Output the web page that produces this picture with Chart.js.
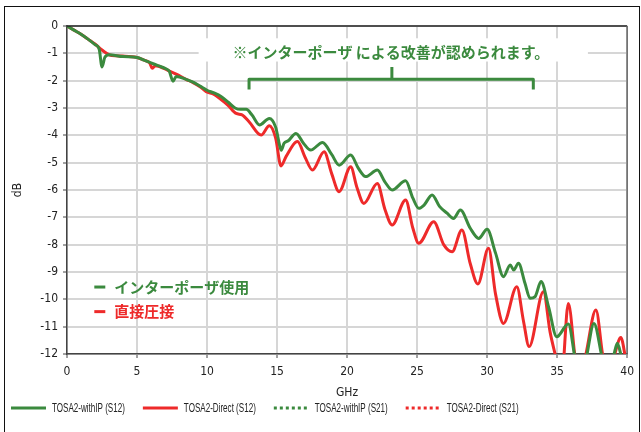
<!DOCTYPE html>
<html>
<head>
<meta charset="utf-8">
<script src="https://cdn.jsdelivr.net/npm/chart.js@4.4.1/dist/chart.umd.min.js"></script>
<style>
html,body{margin:0;padding:0;background:#fff;}
#wrap{width:641px;height:432px;position:relative;}
</style>
</head>
<body>
<div id="wrap"><canvas id="chart" width="641" height="432"></canvas></div>
<script>
// insertion loss, TOSA2 with interposer (S12), GHz / dB
const withIpFreq = [0, 0.5, 1, 1.5, 2, 2.3, 2.5, 2.7, 3, 4, 5, 5.5, 6, 6.5, 7, 7.3, 7.57, 7.8, 8.5, 9, 9.5, 10, 10.5, 11, 11.5, 12, 12.4, 12.8, 13.2, 13.75, 14.45, 14.9, 15.2, 15.3, 15.5, 15.8, 16.35, 16.9, 17.4, 18.25, 18.9, 19.43, 20.26, 20.8, 21.33, 22.16, 22.7, 23.22, 24.18, 24.7, 25.12, 25.5, 26.07, 26.6, 27.14, 27.6, 28.09, 28.8, 29.4, 30, 30.6, 31.17, 31.65, 31.9, 32.24, 32.7, 33.07, 33.43, 33.85, 34.4, 34.97, 35.8, 36.3, 36.7, 37.1, 37.63, 38.2, 38.6, 39.07, 39.3, 39.6, 40];
const withIpDb = [0, -0.15, -0.3, -0.48, -0.68, -0.85, -1.5, -1.15, -1.05, -1.12, -1.15, -1.25, -1.35, -1.45, -1.55, -1.65, -2.02, -1.85, -1.95, -2.05, -2.2, -2.35, -2.45, -2.58, -2.78, -3.0, -3.05, -3.05, -3.25, -3.62, -3.38, -3.7, -4.4, -4.55, -4.29, -4.2, -3.93, -4.3, -4.54, -4.26, -4.7, -5.09, -4.72, -5.2, -5.51, -5.27, -5.7, -6.0, -5.66, -6.3, -6.67, -6.55, -6.18, -6.6, -6.85, -7.04, -6.73, -7.4, -7.77, -7.44, -8.3, -9.17, -8.74, -8.93, -8.68, -9.4, -9.96, -9.9, -9.35, -10.3, -11.37, -10.9, -12.2, -13.0, -12.1, -10.88, -12.1, -13.0, -12.0, -11.61, -12.1, -12.5];

// TOSA2 direct contact (S12)
const directFreq = [0, 0.5, 1, 1.5, 2, 2.5, 2.83, 3.2, 4, 5, 5.5, 5.9, 6.1, 6.3, 6.6, 7.2, 7.8, 8.5, 9, 9.5, 9.94, 10.5, 10.9, 11.5, 12.08, 12.5, 13, 13.86, 14.45, 14.9, 15.28, 15.64, 16.46, 17, 17.53, 18.36, 18.9, 19.43, 20.26, 20.7, 21.2, 22.16, 22.7, 23.22, 24.18, 24.7, 25.12, 26.19, 26.9, 27.5, 28.2, 28.8, 29.34, 30.1, 30.6, 31.17, 32.12, 32.6, 33, 34.02, 34.5, 34.9, 35.3, 35.8, 36.3, 36.6, 37.06, 37.77, 38.24, 38.6, 39.12, 39.55, 39.9, 40];
const directDb = [0, -0.15, -0.3, -0.48, -0.66, -0.88, -1.0, -1.08, -1.1, -1.15, -1.25, -1.35, -1.55, -1.45, -1.48, -1.62, -1.76, -1.95, -2.07, -2.22, -2.4, -2.5, -2.65, -2.9, -3.2, -3.25, -3.5, -3.99, -3.65, -4.1, -5.12, -4.78, -4.23, -4.8, -5.27, -4.6, -5.4, -6.06, -5.15, -5.9, -6.49, -5.76, -6.7, -7.28, -6.37, -7.4, -7.95, -7.16, -8.0, -8.26, -7.46, -8.7, -9.44, -8.13, -9.8, -10.88, -9.54, -10.8, -11.73, -9.72, -11.2, -12.1, -13.0, -10.15, -12.2, -13.0, -12.0, -10.39, -12.0, -13.0, -12.0, -11.4, -12.2, -12.5];

const seriesLabels = ['TOSA2-withIP (S12)', 'TOSA2-Direct (S12)', 'TOSA2-withIP (S21)', 'TOSA2-Direct (S21)'];
const xTicks = [0, 5, 10, 15, 20, 25, 30, 35, 40];
const yTicks = [0, -1, -2, -3, -4, -5, -6, -7, -8, -9, -10, -11, -12];

// callout texts, anchored in data units (GHz, dB)
const noteText = '※インターポーザ による改善が認められます。';
const noteFrom = 13, noteTo = 33.3, noteMid = 23.2;
const innerLegend = [['インターポーザ使用', -9.55], ['直接圧接', -10.45]];

const GREEN = '#3b8a3e';
const RED = '#ee2a2a';
const narrow = "'DejaVu Sans Condensed', 'Liberation Sans', sans-serif";
const cjk = "'Noto Sans CJK JP', sans-serif";

const toPts = (xs, ys) => xs.map((x, i) => ({x: x, y: ys[i]}));

const notes = {
    id: 'notes',
    beforeDatasetsDraw(chart) {
        const {ctx, scales: {x, y}} = chart;
        ctx.save();
        ctx.fillStyle = '#fff';
        const l = x.getPixelForValue(9.4), r = x.getPixelForValue(37.2);
        const t = y.getPixelForValue(-0.45), b = y.getPixelForValue(-1.3);
        ctx.fillRect(l, t, r - l, b - t);
        ctx.restore();
    },
    afterDatasetsDraw(chart) {
        const {ctx, chartArea: a, scales: {x, y}} = chart;
        ctx.save();
        // plot frame top / right
        ctx.strokeStyle = '#222';
        ctx.lineWidth = 1.5;
        ctx.beginPath();
        ctx.moveTo(a.left, a.top);
        ctx.lineTo(a.right, a.top);
        ctx.stroke();
        ctx.strokeStyle = '#666';
        ctx.beginPath();
        ctx.moveTo(a.right, a.top);
        ctx.lineTo(a.right, a.bottom);
        ctx.stroke();

        // bracket
        const x1 = x.getPixelForValue(noteFrom), x2 = x.getPixelForValue(noteTo), xm = x.getPixelForValue(noteMid);
        const yb = y.getPixelForValue(-1.95);
        ctx.strokeStyle = GREEN;
        ctx.lineWidth = 3;
        ctx.lineJoin = 'round';
        ctx.beginPath();
        ctx.moveTo(x1, y.getPixelForValue(-2.32));
        ctx.lineTo(x1, yb);
        ctx.lineTo(x2, yb);
        ctx.lineTo(x2, y.getPixelForValue(-2.32));
        ctx.moveTo(xm, yb);
        ctx.lineTo(xm, y.getPixelForValue(-1.5));
        ctx.stroke();

        ctx.fillStyle = GREEN;
        ctx.font = 'bold 15px ' + cjk;
        ctx.textAlign = 'center';
        ctx.textBaseline = 'middle';
        ctx.fillText(noteText, x.getPixelForValue(noteMid) - 1, y.getPixelForValue(-0.95));

        // inner legend
        ctx.textAlign = 'left';
        innerLegend.forEach(([txt, v], i) => {
            const c = i === 0 ? GREEN : RED;
            const yy = y.getPixelForValue(v);
            const xx = x.getPixelForValue(1.95);
            ctx.strokeStyle = c;
            ctx.lineWidth = 3;
            ctx.beginPath();
            ctx.moveTo(xx, yy);
            ctx.lineTo(xx + 11, yy);
            ctx.stroke();
            ctx.fillStyle = c;
            ctx.fillText(txt, xx + 20, yy);
        });
        ctx.restore();
    },
    afterDraw(chart) {
        const ctx = chart.ctx;
        ctx.save();
        // series key along the bottom, narrow type like the original
        const yy = 408;
        let xx = 11;
        ctx.font = '13px ' + "'Liberation Sans', sans-serif";
        ctx.textBaseline = 'middle';
        chart.data.datasets.forEach(ds => {
            ctx.strokeStyle = ds.borderColor;
            ctx.lineWidth = 3;
            ctx.setLineDash(ds.borderDash || []);
            ctx.beginPath();
            ctx.moveTo(xx, yy);
            ctx.lineTo(xx + 35, yy);
            ctx.stroke();
            ctx.setLineDash([]);
            const sx = 0.62;
            const w = ctx.measureText(ds.label).width * sx;
            ctx.save();
            ctx.translate(xx + 41, yy);
            ctx.scale(sx, 1);
            ctx.fillStyle = '#222';
            ctx.fillText(ds.label, 0, 0);
            ctx.restore();
            xx += 41 + w + 18;
        });

        ctx.strokeStyle = '#111';
        ctx.lineWidth = 1;
        ctx.strokeRect(4.5, 6.5, 635, 440);
        ctx.restore();
    }
};

new Chart(document.getElementById('chart'), {
    type: 'line',
    data: {
        datasets: [{
            label: seriesLabels[0],
            data: toPts(withIpFreq, withIpDb),
            borderColor: GREEN,
            backgroundColor: GREEN,
            borderWidth: 3
        }, {
            label: seriesLabels[1],
            data: toPts(directFreq, directDb),
            borderColor: RED,
            backgroundColor: RED,
            borderWidth: 3
        }, {
            label: seriesLabels[2],
            data: [],
            borderColor: GREEN,
            borderDash: [3, 3],
            borderWidth: 3
        }, {
            label: seriesLabels[3],
            data: [],
            borderColor: RED,
            borderDash: [3, 3],
            borderWidth: 3
        }]
    },
    options: {
        responsive: false,
        animation: false,
        layout: {padding: {top: 26, right: 12, left: 0, bottom: 32}},
        elements: {
            point: {radius: 0, hoverRadius: 0},
            line: {cubicInterpolationMode: 'monotone'}
        },
        plugins: {
            tooltip: {enabled: false},
            legend: {display: false}
        },
        scales: {
            x: {
                type: 'linear',
                min: 0,
                max: 40,
                afterBuildTicks: s => { s.ticks = xTicks.map(v => ({value: v})); },
                afterFit: s => { s.height = 46; },
                grid: {color: '#d6d6d6', lineWidth: 2, tickLength: 4, tickColor: '#444', tickWidth: 1},
                border: {color: '#444', width: 1.5},
                ticks: {color: '#222', padding: 7, maxRotation: 0, font: {family: narrow, size: 12}},
                title: {display: true, text: 'GHz', color: '#222', padding: {top: 0, bottom: 0}, font: {family: narrow, size: 12}}
            },
            y: {
                min: -12,
                max: 0,
                afterBuildTicks: s => { s.ticks = yTicks.map(v => ({value: v})); },
                afterFit: s => { s.width = 67; },
                grid: {color: '#d6d6d6', lineWidth: 2, tickLength: 4, tickColor: '#444', tickWidth: 1},
                border: {color: '#444', width: 1.5},
                ticks: {color: '#222', padding: 5, font: {family: narrow, size: 12}},
                title: {display: true, text: 'dB', color: '#222', padding: {top: 11, bottom: 0}, font: {family: narrow, size: 12}}
            }
        }
    },
    plugins: [notes]
});
</script>
</body>
</html>
